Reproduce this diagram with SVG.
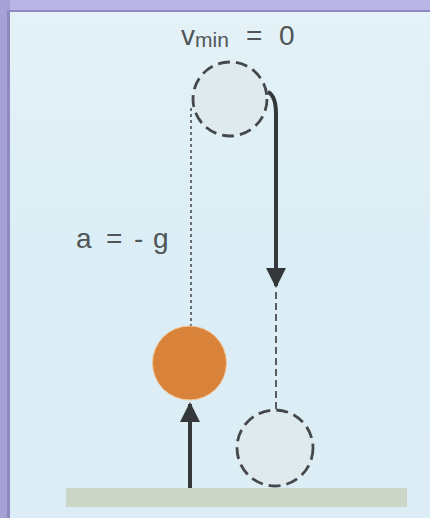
<svg xmlns="http://www.w3.org/2000/svg" width="430" height="518" viewBox="0 0 430 518">
  <style>
    .lbl { font-family: "Liberation Sans", Arial, sans-serif; fill: #505558; font-size: 28px; }
    .sub { font-size: 21px; }
    .ghost { fill: #dfeaef; stroke: #45484b; stroke-width: 2.8; stroke-dasharray: 12 6; }
    .dotted { stroke: #6a6d70; stroke-width: 2; stroke-dasharray: 3 3; fill: none; }
    .dashed { stroke: #5a5d60; stroke-width: 2; stroke-dasharray: 7 4; fill: none; }
    .solid { stroke: #34383b; stroke-width: 4; fill: none; }
  </style>
  <defs>
    <linearGradient id="bg" x1="0" y1="0" x2="0" y2="1">
      <stop offset="0" stop-color="#e4f2f7"/>
      <stop offset="0.5" stop-color="#dbedf5"/>
      <stop offset="1" stop-color="#dcedf5"/>
    </linearGradient>
    <linearGradient id="frameTop" x1="0" y1="0" x2="0" y2="1">
      <stop offset="0" stop-color="#b9b5e4"/>
      <stop offset="1" stop-color="#9d98cf"/>
    </linearGradient>
    <marker id="head" viewBox="0 0 10 10" refX="9" refY="5" markerWidth="5" markerHeight="5" orient="auto" markerUnits="strokeWidth">
      <path d="M0,0 L10,5 L0,10 Z" fill="#34383b"/>
    </marker>
  </defs>

  <g id="frame">
    <rect x="0" y="0" width="430" height="518" fill="url(#frameTop)"/>
    <rect x="0" y="0" width="10" height="518" fill="#a6a2d6"/>
    <rect x="7" y="10" width="423" height="508" fill="#8e89c0"/>
    <rect x="10" y="12" width="420" height="506" fill="url(#bg)"/>
  </g>

  <g id="ground">
    <rect x="66" y="488" width="341" height="19" fill="#cbd6c6"/>
  </g>

  <g id="label-vmin">
    <text class="lbl" x="181" y="45">v<tspan class="sub" dy="2">min</tspan><tspan x="246" dy="-2">=</tspan><tspan x="279">0</tspan></text>
  </g>

  <g id="label-a">
    <text class="lbl" x="76" y="248">a<tspan x="106">=</tspan><tspan x="134">-</tspan><tspan x="153">g</tspan></text>
  </g>

  <g id="top-position">
    <circle class="ghost" cx="230" cy="99" r="37"/>
  </g>

  <g id="bottom-position">
    <circle class="ghost" cx="275" cy="448" r="38"/>
  </g>

  <g id="connectors">
    <line class="dotted" x1="191" y1="108" x2="191" y2="326"/>
    <line class="dashed" x1="276" y1="292" x2="276" y2="409"/>
    <path class="solid" d="M268,92 Q276,96 276,114 L276,286" marker-end="url(#head)"/>
    <line class="solid" x1="190" y1="488" x2="190" y2="404" marker-end="url(#head)"/>
  </g>

  <g id="ball">
    <circle cx="189.5" cy="363" r="37" fill="#d9833a" stroke="#f1c79a" stroke-width="1"/>
  </g>
</svg>
